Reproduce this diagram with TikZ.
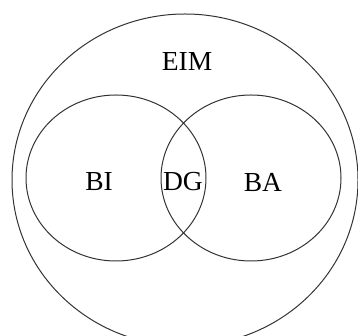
\documentclass[tikz,border=0pt]{standalone}
\usepackage{fontspec}
\setmainfont{Liberation Serif}
\usetikzlibrary{shapes.geometric}

\begin{document}
\begin{tikzpicture}[x=1pt, y=1pt, every node/.style={font=\fontsize{27.5}{32}\selectfont}]
            \useasboundingbox (0,0) rectangle (358,336);
            % Sets
            \node[draw=black!80, line width=1pt, ellipse, minimum width=346pt, minimum height=332pt, inner sep=0pt] (eim) at (185,156) {};
            \node[draw=black!80, line width=1pt, ellipse, minimum width=180pt, minimum height=166pt, inner sep=0pt] (bi) at (116,158) {};
            \node[draw=black!80, line width=1pt, ellipse, minimum width=180pt, minimum height=166pt, inner sep=0pt] (ba) at (251,158) {};

            % Labels
            \node (eimlabel) at (187,274) {EIM};
            \node (bilabel) at (99,154) {BI};
            \node (dglabel) at (183,154) {DG};
            \node (balabel) at (263,154) {BA};
        \end{tikzpicture}
\end{document}
